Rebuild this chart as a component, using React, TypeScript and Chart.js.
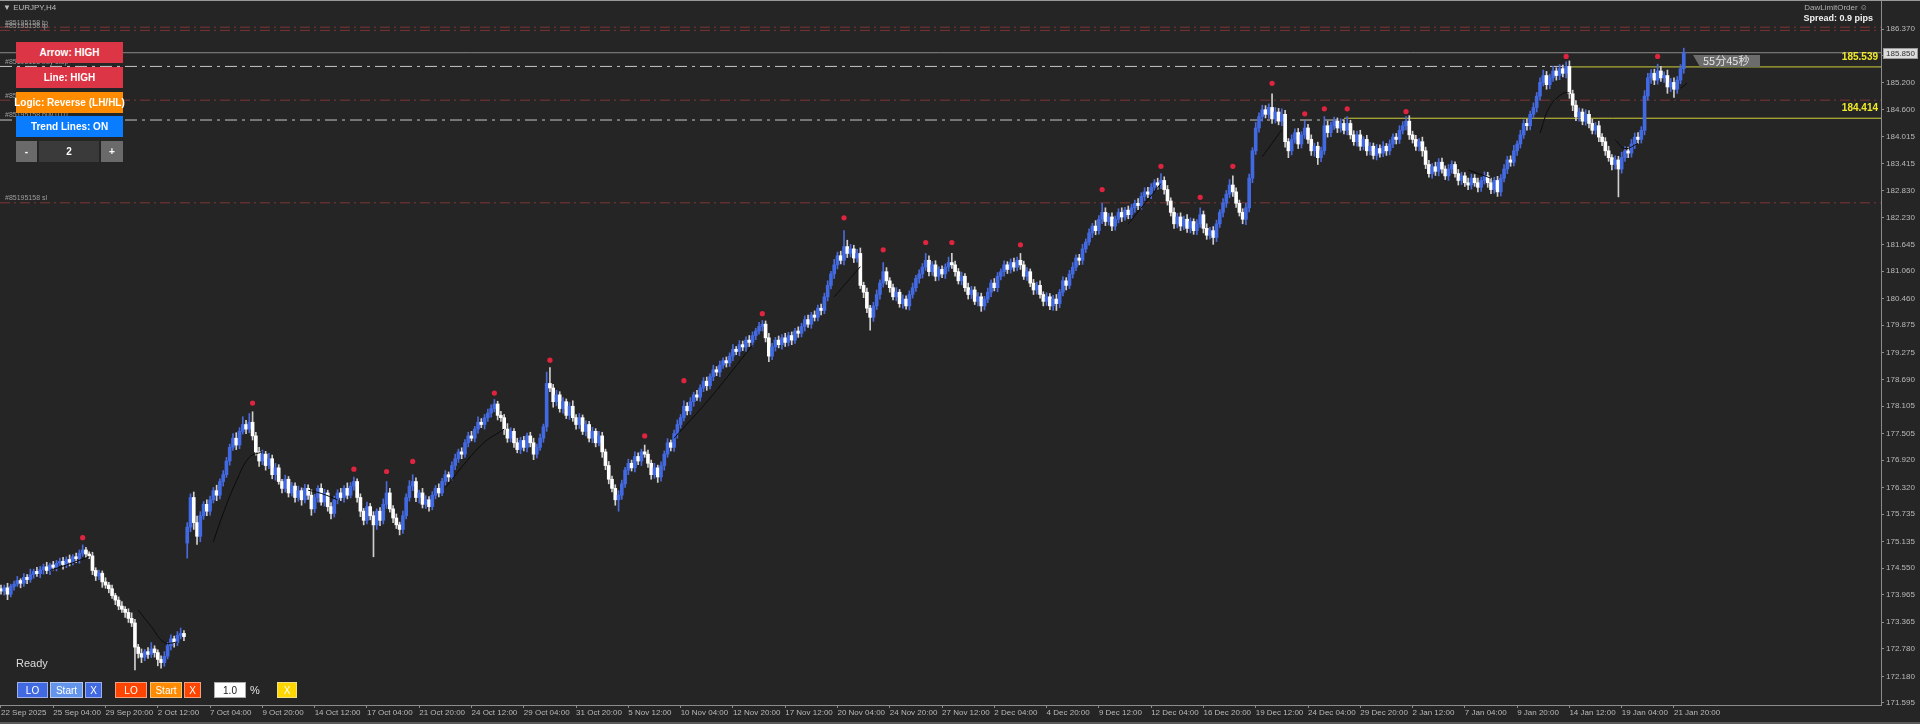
import React, { useEffect, useRef } from 'react';
import { Chart, registerables } from 'chart.js';

Chart.register(...registerables);

// ---------- DATA ----------
const timeLabels = [
  '22 Sep 2025', '25 Sep 04:00', '29 Sep 20:00', '2 Oct 12:00', '7 Oct 04:00', '9 Oct 20:00',
  '14 Oct 12:00', '17 Oct 04:00', '21 Oct 20:00', '24 Oct 12:00', '29 Oct 04:00', '31 Oct 20:00',
  '5 Nov 12:00', '10 Nov 04:00', '12 Nov 20:00', '17 Nov 12:00', '20 Nov 04:00', '24 Nov 20:00',
  '27 Nov 12:00', '2 Dec 04:00', '4 Dec 20:00', '9 Dec 12:00', '12 Dec 04:00', '16 Dec 20:00',
  '19 Dec 12:00', '24 Dec 04:00', '29 Dec 20:00', '2 Jan 12:00', '7 Jan 04:00', '9 Jan 20:00',
  '14 Jan 12:00', '19 Jan 04:00', '21 Jan 20:00',
];
const barsPerLabel = 16;

const priceTicks = [
  186.370, 185.785, 185.200, 184.600, 184.015, 183.415, 182.830, 182.230, 181.645, 181.060,
  180.460, 179.875, 179.275, 178.690, 178.105, 177.505, 176.920, 176.320, 175.735, 175.135,
  174.550, 173.965, 173.365, 172.780, 172.180, 171.595,
];

const firstOpen = 174.10;
const gapOpens: Record<number, number> = { 57: 175.10 };

const closes = [
  174.05, 174.12, 173.98, 174.15, 174.20, 174.28, 174.22, 174.35, 174.30, 174.41,
  174.48, 174.43, 174.52, 174.58, 174.50, 174.62, 174.57, 174.66, 174.70, 174.63,
  174.74, 174.68, 174.80, 174.76, 174.88, 174.95, 174.86, 174.82, 174.50, 174.38,
  174.44, 174.25, 174.18, 174.10, 173.95, 173.85, 173.72, 173.65, 173.58, 173.45,
  173.35, 172.82, 172.68, 172.60, 172.72, 172.66, 172.78, 172.70, 172.55, 172.48,
  172.62, 172.85, 173.00, 172.92, 173.08, 173.12, 173.05,
  175.45, 176.10, 175.55,
  175.25, 175.70, 175.95, 175.80, 176.05, 176.25, 176.15, 176.45, 176.60, 176.90,
  177.20, 177.40, 177.25, 177.55, 177.70, 177.60, 177.75, 177.45, 177.10, 176.90,
  177.05, 176.80, 176.95, 176.60, 176.75, 176.45, 176.30, 176.50, 176.20, 176.35,
  176.10, 176.25, 176.05, 176.30, 176.15, 175.85, 176.10, 176.30, 176.00, 176.20,
  175.90, 175.75, 176.05, 176.20, 176.10, 176.30, 176.15, 176.35, 176.45, 176.10,
  175.80, 175.60, 175.90, 175.70, 175.50, 175.80, 175.60, 175.95, 176.20, 175.85,
  175.65, 175.50, 175.40, 175.70, 176.10, 176.35, 176.45, 176.10, 176.20, 175.95,
  176.05, 175.90, 176.15, 176.30, 176.20, 176.45, 176.60, 176.55, 176.80, 176.95,
  177.10, 177.05, 177.30, 177.45, 177.40, 177.60, 177.75, 177.70, 177.85, 177.95,
  178.05, 178.15, 177.90, 177.85, 177.60, 177.40, 177.55, 177.30, 177.15, 177.35,
  177.20, 177.45, 177.30, 177.05, 177.20, 177.40, 177.65, 178.60, 178.50, 178.20,
  178.35, 178.05, 178.20, 177.90, 178.10, 177.85, 177.70, 177.85, 177.55, 177.70,
  177.40, 177.55, 177.30, 177.45, 177.10, 176.80, 176.50, 176.30, 176.05, 176.15,
  176.40, 176.70, 176.85, 176.75, 177.00, 176.90, 177.10, 177.05, 176.85, 176.60,
  176.75, 176.55, 176.80, 177.05, 177.30, 177.20, 177.50, 177.70, 177.85, 178.10,
  178.00, 178.20, 178.35, 178.30, 178.50, 178.65, 178.55, 178.75, 178.90, 178.85,
  179.00, 179.10, 179.05, 179.20, 179.35, 179.30, 179.45, 179.40, 179.55, 179.50,
  179.65, 179.75, 179.85, 179.90, 179.60, 179.20, 179.40, 179.55, 179.45, 179.60,
  179.50, 179.65, 179.55, 179.75, 179.70, 179.85, 180.00, 179.90, 180.10, 180.05,
  180.25, 180.20, 180.50, 180.75, 181.00, 181.20, 181.40, 181.30, 181.60, 181.45,
  181.55, 181.35, 181.45, 180.75, 180.60, 180.25, 180.05, 180.30, 180.55, 180.80,
  181.05, 180.85, 180.70, 180.50, 180.60, 180.35, 180.45, 180.30, 180.55, 180.70,
  180.90, 181.00, 181.15, 181.30, 181.05, 181.20, 180.95, 181.10, 181.00, 181.15,
  181.25, 181.20, 181.05, 180.85, 180.95, 180.70, 180.55, 180.65, 180.40, 180.50,
  180.30, 180.45, 180.60, 180.80, 180.70, 180.95, 181.05, 181.20, 181.10, 181.25,
  181.15, 181.30, 181.20, 180.95, 181.05, 180.80, 180.65, 180.75, 180.55, 180.40,
  180.50, 180.30, 180.45, 180.35, 180.60, 180.85, 180.75, 181.00, 181.15, 181.35,
  181.30, 181.55, 181.70, 181.90, 182.05, 181.95, 182.20, 182.35, 182.15, 182.25,
  182.05, 182.20, 182.35, 182.25, 182.40, 182.30, 182.45, 182.55, 182.50, 182.70,
  182.80, 182.75, 182.90, 183.00, 182.95, 183.05, 182.85, 182.60, 182.35, 182.10,
  182.25, 182.05, 182.20, 182.00, 182.15, 181.95, 182.10, 182.30, 182.00, 181.85,
  181.95, 181.80, 182.10, 182.35, 182.55, 182.75, 182.95, 182.80, 182.55, 182.35,
  182.20, 182.45, 183.10, 183.70, 184.20, 184.45, 184.60, 184.50, 184.65, 184.40,
  184.55, 184.35, 184.50, 183.90, 183.70, 183.95, 184.10, 183.85, 184.05, 184.20,
  183.95, 183.70, 183.80, 183.55, 183.70, 184.25, 184.10, 184.25, 184.35, 184.20,
  184.30, 184.15, 184.30, 184.05, 183.90, 184.05, 183.80, 183.95, 183.70, 183.80,
  183.60, 183.75, 183.65, 183.80, 183.70, 183.85, 184.00, 183.95, 184.15, 184.25,
  184.35, 184.05, 183.95, 183.80, 183.90, 183.70, 183.40, 183.20, 183.35, 183.25,
  183.45, 183.30, 183.15, 183.30, 183.40, 183.20, 183.05, 183.15, 183.00, 182.95,
  183.10, 183.00, 182.90, 183.05, 183.15, 183.00, 182.85, 183.05, 182.80, 183.10,
  183.30, 183.50, 183.45, 183.70, 183.85, 184.05, 184.30, 184.25, 184.50, 184.65,
  184.90, 185.20, 185.35, 185.15, 185.30, 185.45, 185.35, 185.50, 185.40, 185.55,
  184.95, 184.70, 184.45, 184.55, 184.35, 184.50, 184.30, 184.15, 184.25, 184.00,
  183.90, 183.70, 183.55, 183.40, 183.50, 183.30, 183.55, 183.70, 183.65, 183.85,
  184.00, 183.95, 184.15, 184.90, 185.30, 185.40, 185.25, 185.45, 185.30, 185.35,
  185.10, 185.20, 185.05, 185.25, 185.50, 185.85,
];

// wick lengths in hundredths of a yen (above body / below body)
const wickUp = [
  8, 6, 10, 5, 7, 9, 4, 8, 6, 12,
  5, 9, 7, 6, 10, 4, 8, 6, 7, 9,
  6, 10, 5, 8, 7, 11, 6, 5, 8, 6,
  7, 5, 9, 6, 8, 5, 7, 10, 6, 8,
  12, 8, 6, 10, 5, 9, 14, 7, 6, 8,
  10, 7, 9, 6, 8, 12, 6,
  10, 8, 12,
  14, 9, 6, 10, 8, 7, 12, 6, 9, 8,
  7, 10, 12, 8, 17, 9, 19, 23, 8, 10,
  9, 6, 12, 8, 10, 7, 5, 9, 6, 8,
  7, 10, 6, 9, 8, 12, 7, 6, 10, 8,
  6, 9, 8, 7, 10, 6, 12, 8, 10, 6,
  8, 6, 10, 7, 9, 5, 8, 12, 25, 10,
  7, 9, 6, 10, 8, 12, 15, 8, 6, 10,
  9, 7, 8, 6, 10, 7, 9, 6, 8, 10,
  6, 9, 7, 8, 10, 6, 12, 8, 7, 9,
  8, 10, 6, 9, 7, 12, 8, 6, 10, 7,
  9, 6, 8, 10, 7, 9, 6, 25, 35, 8,
  10, 7, 9, 6, 8, 12, 7, 9, 6, 8,
  7, 9, 6, 10, 8, 6, 9, 7, 8, 10,
  8, 6, 9, 7, 10, 8, 6, 15, 9, 7,
  10, 6, 8, 7, 9, 6, 8, 10, 7, 12,
  8, 9, 6, 10, 7, 8, 9, 6, 10, 7,
  9, 6, 8, 7, 10, 6, 9, 8, 7, 10,
  8, 6, 9, 8, 7, 10, 8, 6, 9, 7,
  10, 7, 8, 6, 9, 7, 8, 10, 6, 9,
  7, 9, 8, 10, 6, 12, 8, 10, 35, 14,
  10, 8, 9, 12, 7, 9, 6, 8, 10, 7,
  20, 9, 7, 8, 10, 6, 9, 7, 8, 10,
  7, 9, 8, 15, 10, 7, 9, 6, 8, 7,
  12, 20, 8, 7, 9, 6, 10, 8, 7, 9,
  8, 6, 9, 7, 10, 8, 6, 9, 7, 8,
  10, 7, 15, 8, 9, 6, 8, 7, 10, 6,
  9, 7, 8, 10, 6, 9, 7, 8, 10, 7,
  8, 10, 7, 9, 6, 12, 8, 20, 10, 8,
  9, 7, 8, 10, 6, 9, 8, 7, 10, 8,
  9, 10, 8, 7, 10, 15, 8, 9, 7, 10,
  8, 9, 7, 10, 8, 6, 9, 15, 8, 10,
  7, 9, 8, 6, 10, 8, 12, 20, 9, 7,
  8, 10, 9, 7, 12, 8, 10, 9, 8, 30,
  10, 8, 12, 9, 7, 10, 8, 9, 7, 15,
  8, 10, 7, 9, 8, 20, 10, 8, 9, 7,
  10, 8, 15, 7, 9, 8, 10, 6, 9, 8,
  7, 9, 8, 10, 6, 9, 7, 8, 10, 9,
  10, 12, 8, 9, 7, 10, 8, 9, 7, 10,
  8, 9, 7, 10, 8, 6, 9, 8, 7, 10,
  9, 8, 10, 7, 9, 8, 10, 7, 9, 8,
  10, 8, 9, 12, 7, 10, 8, 9, 7, 10,
  8, 10, 12, 9, 8, 10, 7, 9, 8, 10,
  12, 8, 10, 9, 7, 10, 8, 9, 7, 10,
  8, 9, 10, 7, 9, 8, 12, 9, 8, 10,
  9, 10, 8, 12, 10, 8, 9, 15, 10, 8,
  12, 9, 10, 8, 9, 10,
];
const wickDown = [
  7, 9, 12, 6, 8, 5, 10, 7, 9, 6,
  8, 6, 9, 10, 7, 9, 6, 8, 5, 10,
  7, 8, 6, 9, 10, 7, 8, 6, 9, 10,
  8, 12, 7, 9, 6, 10, 8, 7, 11, 9,
  8, 50, 10, 12, 8, 9, 7, 10, 14, 12,
  8, 6, 9, 10, 7, 8, 9,
  33, 10, 15,
  18, 12, 8, 10, 9, 7, 12, 8, 10, 6,
  9, 7, 10, 8, 6, 10, 8, 9, 7, 12,
  8, 10, 7, 9, 12, 6, 10, 8, 9, 7,
  10, 8, 12, 7, 9, 14, 8, 10, 7, 9,
  10, 12, 8, 9, 7, 10, 8, 6, 9, 10,
  12, 10, 8, 9, 70, 10, 12, 8, 9, 7,
  10, 8, 12, 9, 7, 8, 10, 9, 12, 8,
  9, 10, 7, 8, 9, 6, 8, 10, 7, 9,
  8, 10, 7, 9, 6, 8, 9, 7, 10, 8,
  9, 7, 10, 8, 12, 9, 8, 10, 7, 9,
  8, 10, 9, 12, 8, 7, 9, 10, 8, 12,
  9, 8, 10, 7, 9, 8, 10, 9, 7, 10,
  8, 10, 9, 7, 12, 9, 10, 8, 12, 25,
  9, 8, 10, 7, 9, 8, 10, 7, 9, 10,
  8, 12, 9, 10, 7, 8, 9, 10, 8, 7,
  9, 8, 10, 7, 9, 8, 10, 7, 9, 8,
  10, 7, 9, 8, 10, 7, 9, 8, 10, 9,
  8, 9, 7, 10, 9, 12, 8, 9, 7, 10,
  9, 8, 10, 7, 9, 8, 10, 7, 9, 8,
  8, 10, 7, 9, 8, 10, 9, 8, 10, 9,
  8, 10, 9, 7, 12, 10, 28, 9, 8, 10,
  9, 8, 10, 7, 9, 8, 10, 7, 9, 8,
  8, 10, 9, 7, 9, 8, 10, 9, 8, 10,
  9, 8, 10, 7, 9, 8, 10, 9, 7, 10,
  12, 9, 8, 10, 7, 9, 8, 10, 9, 8,
  9, 8, 10, 7, 9, 8, 10, 9, 8, 10,
  9, 8, 10, 15, 9, 8, 10, 7, 9, 8,
  10, 9, 8, 7, 10, 9, 8, 10, 9, 8,
  10, 9, 8, 10, 7, 9, 8, 10, 9, 8,
  9, 8, 10, 7, 9, 8, 10, 9, 8, 10,
  9, 10, 8, 9, 10, 8, 9, 8, 10, 9,
  8, 15, 9, 8, 10, 9, 8, 10, 9, 8,
  10, 12, 9, 10, 8, 9, 10, 8, 9, 10,
  9, 8, 10, 12, 15, 9, 8, 10, 9, 8,
  9, 10, 12, 15, 9, 8, 10, 9, 8, 10,
  9, 8, 10, 9, 8, 10, 9, 8, 10, 9,
  8, 10, 9, 8, 10, 9, 8, 10, 9, 8,
  9, 10, 8, 9, 10, 12, 9, 8, 10, 9,
  10, 9, 8, 10, 9, 8, 10, 9, 8, 10,
  9, 8, 10, 9, 8, 10, 9, 8, 10, 9,
  8, 10, 9, 8, 10, 9, 8, 10, 9, 8,
  10, 9, 8, 10, 9, 8, 10, 9, 8, 10,
  10, 12, 9, 10, 8, 9, 10, 8, 9, 10,
  9, 10, 8, 12, 10, 61, 9, 8, 10, 9,
  10, 9, 8, 10, 9, 12, 10, 9, 8, 10,
  14, 10, 18, 9, 8, 10,
];

// swing-high markers
const dotIndex = [25, 77, 108, 118, 126, 151, 168, 197, 209, 233, 258, 270, 283, 291, 312, 337, 355, 367, 377, 389, 399, 405, 412, 430, 479, 507];
const dotPrice = [175.22, 178.17, 176.72, 176.67, 176.89, 178.39, 179.11, 177.45, 178.66, 180.13, 182.23, 181.53, 181.69, 181.69, 181.64, 182.85, 183.36, 182.68, 183.36, 185.18, 184.51, 184.62, 184.62, 184.56, 185.77, 185.77];

// short trend lines: [barIndex, price]
const trendLines: number[][][] = [
  [[15, 174.50], [20, 174.62], [27, 174.80]],
  [[42, 173.63], [46, 173.27], [50, 172.92], [54, 172.93]],
  [[65, 175.13], [68, 175.75], [72, 176.45], [76, 176.98], [80, 177.10]],
  [[94, 176.26], [98, 176.19], [103, 176.05]],
  [[136, 176.32], [147, 177.25], [154, 177.60]],
  [[206, 177.40], [217, 178.28], [230, 179.44]],
  [[255, 180.50], [263, 181.16]],
  [[345, 182.10], [355, 182.98]],
  [[386, 183.57], [392, 184.16]],
  [[449, 183.28], [456, 183.10]],
  [[471, 184.09], [474, 184.67], [478, 184.96], [480, 184.97]],
  [[494, 183.94], [497, 183.75], [501, 183.86]],
  [[514, 185.07], [516, 185.18]],
];

const redLevels = [186.41, 186.34, 184.81, 182.56];
const whiteLevels = [185.55, 184.375];
const whiteLevelEnds = [479, 411];
const yellowLevels = [185.539, 184.414];
const yellowLevelStarts = [479, 411];
const bidPrice = 185.850;
const orderTagText = ['#85195158 tp', '#85195158 tp', '#85195158 buy stop', '#85195158 sl', '#85195158 buy 0.01', '#85195158 sl'];
const orderTagPrice = [186.41, 186.34, 185.55, 184.81, 184.375, 182.56];
const countdownText = '55分45秒';

// ---------- SCALE RANGES ----------
const X_MIN = -0.3;
const X_MAX = 575.36;
const Y_MIN = 171.551;
const Y_MAX = 187.006;

const BG = '#262526';
const AXIS = '#8c8c8c';
const TICKTXT = '#b9b9b9';
const UP = '#4169e1';
const DOWN = '#ffffff';

const opens = closes.map((c, i) => (gapOpens[i] !== undefined ? gapOpens[i] : i === 0 ? firstOpen : closes[i - 1]));

const overlayPlugin = {
  id: 'mtOverlay',
  afterDatasetsDraw(chart: any) {
    const { ctx, chartArea, scales } = chart;
    const x = scales.x;
    const y = scales.y;
    ctx.save();
    ctx.font = '7px "Liberation Sans", Arial, sans-serif';
    ctx.fillStyle = '#9c9c9c';
    ctx.textAlign = 'left';
    ctx.textBaseline = 'bottom';
    orderTagText.forEach((t, k) => {
      ctx.fillText(t, 5, y.getPixelForValue(orderTagPrice[k]) - 1);
    });
    ctx.font = 'bold 10px "Liberation Sans", Arial, sans-serif';
    ctx.fillStyle = '#f0ea2a';
    ctx.textAlign = 'right';
    ctx.textBaseline = 'alphabetic';
    yellowLevels.forEach((p) => {
      ctx.fillText(p.toFixed(3), chartArea.right - 3, y.getPixelForValue(p) - 7);
    });
    const bx = Math.round(x.getPixelForValue(closes.length - 1)) + 9;
    const by = Math.round(y.getPixelForValue(bidPrice)) + 2;
    ctx.fillStyle = '#6c6c6c';
    ctx.beginPath();
    ctx.moveTo(bx, by);
    ctx.lineTo(bx + 67, by);
    ctx.lineTo(bx + 67, by + 12);
    ctx.lineTo(bx + 7, by + 12);
    ctx.closePath();
    ctx.fill();
    ctx.fillStyle = '#e4e4e4';
    ctx.font = '11px "Noto Sans CJK JP", sans-serif';
    ctx.textAlign = 'left';
    ctx.textBaseline = 'middle';
    ctx.fillText(countdownText, bx + 10, by + 6);
    const py = Math.round(y.getPixelForValue(bidPrice));
    ctx.fillStyle = '#dcdcdc';
    ctx.fillRect(chartArea.right + 2, py - 5, 35, 11);
    ctx.strokeStyle = '#9a9a9a';
    ctx.lineWidth = 1;
    ctx.strokeRect(chartArea.right + 2.5, py - 4.5, 34, 10);
    ctx.fillStyle = '#333';
    ctx.font = '8px "Liberation Sans", Arial, sans-serif';
    ctx.textAlign = 'left';
    ctx.textBaseline = 'middle';
    ctx.fillText(bidPrice.toFixed(3), chartArea.right + 5, py + 0.5);
    ctx.restore();
  },
};

function btn(label: string, left: number, top: number, w: number, h: number, bg: string, extra: any = {}) {
  return (
    <div
      key={label + left + top}
      style={{
        position: 'absolute', left, top, width: w, height: h, background: bg, color: '#fff',
        font: 'bold 10px "Liberation Sans", Arial, sans-serif', display: 'flex', alignItems: 'center',
        justifyContent: 'center', boxSizing: 'border-box', whiteSpace: 'nowrap', ...extra,
      }}
    >
      {label}
    </div>
  );
}

export default function App() {
  const ref = useRef<HTMLCanvasElement | null>(null);

  useEffect(() => {
    if (!ref.current) return;
    const isUp = closes.map((c, i) => c >= opens[i]);
    const highs = closes.map((c, i) => Math.max(c, opens[i]) + wickUp[i] / 100);
    const lows = closes.map((c, i) => Math.min(c, opens[i]) - wickDown[i] / 100);

    const datasets: any[] = [];
    datasets.push({
      type: 'line', order: 0,
      data: dotIndex.map((d, k) => ({ x: d, y: dotPrice[k] })),
      showLine: false, pointRadius: 2.6, pointBackgroundColor: '#e0243f', pointBorderWidth: 0,
    });
    trendLines.forEach((seg) => {
      datasets.push({
        type: 'line', order: 1,
        data: seg.map((p) => ({ x: p[0], y: p[1] })),
        borderColor: '#0c0c0c', borderWidth: 1, pointRadius: 0, tension: 0.4,
      });
    });
    datasets.push({
      type: 'bar', order: 2, grouped: false,
      data: closes.map((c, i) => ({ x: i, y: [opens[i], c] })),
      backgroundColor: isUp.map((u) => (u ? UP : DOWN)),
      borderWidth: 0, barThickness: 3, minBarLength: 1,
    });
    datasets.push({
      type: 'bar', order: 3, grouped: false,
      data: closes.map((c, i) => ({ x: i, y: [lows[i], highs[i]] })),
      backgroundColor: isUp.map((u) => (u ? '#4a6ad8' : '#cfcfcf')),
      borderWidth: 0, barThickness: 1,
    });
    yellowLevels.forEach((p, k) => {
      datasets.push({
        type: 'line', order: 4,
        data: [{ x: yellowLevelStarts[k], y: p }, { x: X_MAX, y: p }],
        borderColor: '#cfcf3c', borderWidth: 1, pointRadius: 0,
      });
    });
    whiteLevels.forEach((p, k) => {
      datasets.push({
        type: 'line', order: 5,
        data: [{ x: X_MIN, y: p }, { x: whiteLevelEnds[k], y: p }],
        borderColor: '#c8c8c8', borderWidth: 1, pointRadius: 0, borderDash: [12, 5, 3, 5],
      });
    });
    redLevels.forEach((p) => {
      datasets.push({
        type: 'line', order: 5,
        data: [{ x: X_MIN, y: p }, { x: X_MAX, y: p }],
        borderColor: '#7e3434', borderWidth: 1, pointRadius: 0, borderDash: [10, 4, 2, 4],
      });
    });
    datasets.push({
      type: 'line', order: 6,
      data: [{ x: X_MIN, y: bidPrice }, { x: X_MAX, y: bidPrice }],
      borderColor: '#8a8a8a', borderWidth: 1, pointRadius: 0,
    });

    const tickFont = { family: '"Liberation Sans", Arial, sans-serif', size: 8 };
    const chart = new Chart(ref.current, {
      type: 'bar',
      data: { datasets },
      plugins: [overlayPlugin],
      options: {
        responsive: false,
        animation: false,
        devicePixelRatio: 1,
        events: [],
        layout: { padding: 0, autoPadding: false },
        plugins: { legend: { display: false }, tooltip: { enabled: false } },
        scales: {
          x: {
            type: 'linear', min: X_MIN, max: X_MAX, offset: false, position: 'bottom',
            grid: { display: true, drawOnChartArea: false, drawTicks: true, tickLength: 3, color: AXIS, offset: false },
            border: { display: true, color: AXIS, width: 1 },
            ticks: {
              autoSkip: false, maxRotation: 0, minRotation: 0, align: 'start', padding: 0,
              color: TICKTXT, font: tickFont,
              callback: (_v: any, idx: number) => timeLabels[idx],
            },
            afterBuildTicks: (s: any) => {
              s.ticks = timeLabels.map((_, k) => ({ value: k * barsPerLabel }));
            },
            afterFit: (s: any) => {
              s.height = 19;
              s.paddingLeft = 0; s.paddingRight = 0; s.paddingTop = 0; s.paddingBottom = 0;
            },
          },
          y: {
            type: 'linear', position: 'right', min: Y_MIN, max: Y_MAX,
            grid: { display: true, drawOnChartArea: false, drawTicks: true, tickLength: 3, color: AXIS },
            border: { display: true, color: AXIS, width: 1 },
            ticks: {
              autoSkip: false, padding: 2, color: TICKTXT, font: tickFont, crossAlign: 'near',
              callback: (v: any) => Number(v).toFixed(3),
            },
            afterBuildTicks: (s: any) => {
              s.ticks = priceTicks.map((v) => ({ value: v }));
            },
            afterFit: (s: any) => {
              s.width = 39;
              s.paddingLeft = 0; s.paddingRight = 0; s.paddingTop = 0; s.paddingBottom = 0;
            },
          },
        },
      } as any,
    } as any);
    return () => chart.destroy();
  }, []);

  const small = { position: 'absolute' as const, font: '8px "Liberation Sans", Arial, sans-serif', color: '#bdbdbd', whiteSpace: 'nowrap' as const };
  const panelW = 107;
  return (
    <div style={{ position: 'fixed', left: 0, top: 0, width: 1920, height: 724, background: BG, overflow: 'hidden' }}>
      <canvas ref={ref} width={1920} height={724} style={{ position: 'absolute', left: 0, top: 0, width: 1920, height: 724, display: 'block' }} />
      <div style={{ position: 'absolute', left: 0, top: 0, width: 1920, height: 1, background: '#9a9a9a' }} />
      <div style={{ position: 'absolute', left: 0, top: 722, width: 1920, height: 2, background: '#5a5a5a' }} />
      <div style={{ ...small, left: 3, top: 3 }}>▼ EURJPY,H4</div>
      <div style={{ ...small, right: 52, top: 3, color: '#b0b0b0' }}>DawLimitOrder ☺</div>
      <div style={{ ...small, right: 47, top: 13, font: 'bold 9px "Liberation Sans", Arial, sans-serif', color: '#f2f2f2' }}>Spread: 0.9 pips</div>

      {btn('Arrow: HIGH', 16, 42, panelW, 21, '#dc3545')}
      {btn('Line: HIGH', 16, 67, panelW, 21, '#dc3545')}
      {btn('Logic: Reverse (LH/HL)', 16, 92, panelW, 21, '#ff8c00')}
      {btn('Trend Lines: ON', 16, 116, panelW, 21, '#0a7cff')}
      {btn('-', 16, 141, 21, 21, '#6a6a6a')}
      {btn('2', 39, 141, 60, 21, '#3b3a3b')}
      {btn('+', 101, 141, 22, 21, '#6a6a6a')}

      <div style={{ position: 'absolute', left: 16, top: 657, font: '11px "Liberation Sans", Arial, sans-serif', color: '#dddddd' }}>Ready</div>
      {btn('LO', 17, 682, 31, 16, '#4169e1', { font: '10px "Liberation Sans", Arial, sans-serif', border: '1px solid #9fb0e8' })}
      {btn('Start', 50, 682, 33, 16, '#6495ed', { font: '10px "Liberation Sans", Arial, sans-serif', border: '1px solid #b5c7ef' })}
      {btn('X', 85, 682, 17, 16, '#4169e1', { font: '10px "Liberation Sans", Arial, sans-serif', border: '1px solid #9fb0e8' })}
      {btn('LO', 115, 682, 32, 16, '#ff4500', { font: '10px "Liberation Sans", Arial, sans-serif', border: '1px solid #f0a080' })}
      {btn('Start', 150, 682, 32, 16, '#ff8c00', { font: '10px "Liberation Sans", Arial, sans-serif', border: '1px solid #f0c080' })}
      {btn('X', 184, 682, 17, 16, '#ff4500', { font: '10px "Liberation Sans", Arial, sans-serif', border: '1px solid #f0a080' })}
      {btn('1.0', 214, 682, 32, 16, '#ffffff', { font: '10px "Liberation Sans", Arial, sans-serif', color: '#222', border: '1px solid #aaa' })}
      <div style={{ position: 'absolute', left: 250, top: 684, font: '11px "Liberation Sans", Arial, sans-serif', color: '#e0e0e0' }}>%</div>
      {btn('X', 277, 682, 20, 16, '#ffd700', { font: '10px "Liberation Sans", Arial, sans-serif', border: '1px solid #f0e080' })}
    </div>
  );
}
